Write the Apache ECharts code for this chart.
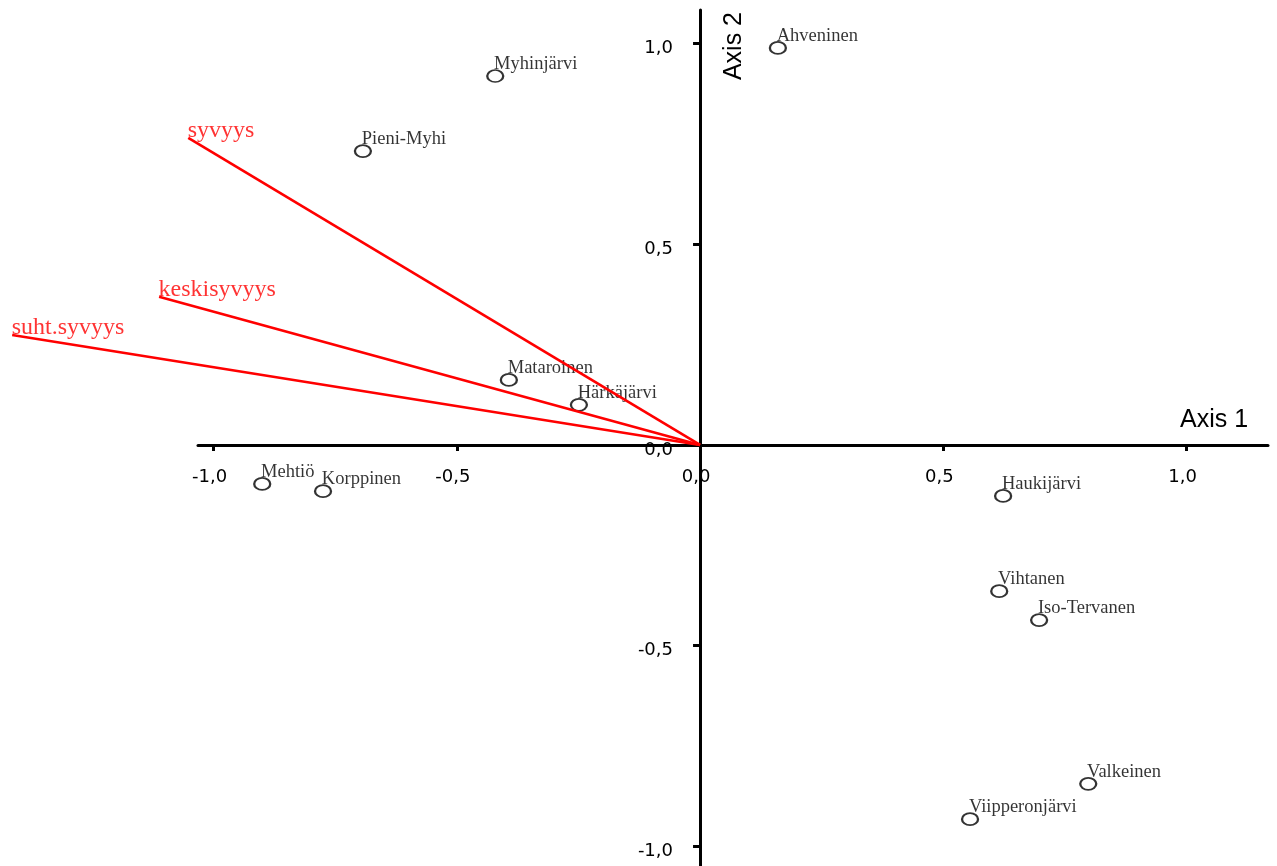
<!DOCTYPE html>
<html>
<head>
<meta charset="utf-8">
<title>Ordinaatio: järvet ja syvyysmuuttujat</title>
<script src="https://cdn.jsdelivr.net/npm/echarts@6/dist/echarts.min.js"></script>
<style>
  html, body { margin: 0; padding: 0; background: #fff; }
  #chart { width: 1277px; height: 866px; }
</style>
</head>
<body>
<div id="chart"></div>
<script>
// Lake scores on the two ordination axes
const siteNames = ['Ahveninen', 'Myhinjärvi', 'Pieni-Myhi', 'Mataroinen', 'Härkäjärvi', 'Mehtiö',
  'Korppinen', 'Haukijärvi', 'Vihtanen', 'Iso-Tervanen', 'Valkeinen', 'Viipperonjärvi'];
const siteAxis1 = [0.160, -0.421, -0.693, -0.393, -0.249, -0.900, -0.775, 0.623, 0.615, 0.697, 0.798, 0.555];
const siteAxis2 = [0.989, 0.919, 0.732, 0.162, 0.100, -0.097, -0.115, -0.127, -0.364, -0.436, -0.844, -0.932];

// Environmental variable vectors (tip coordinates, drawn from the origin)
const vectorNames = ['syvyys', 'keskisyvyys', 'suht.syvyys'];
const vectorAxis1 = [-1.052, -1.112, -1.414];
const vectorAxis2 = [0.765, 0.369, 0.274];

// Axis ranges and tick positions
const axis1Range = [-1.032, 1.1675];
const axis2Range = [-1.0486, 1.0834];
const tickValues = [-1, -0.5, 0, 0.5, 1];

const fmt = v => Number(v).toFixed(1).replace('.', ',');
const RED = '#ff0000';
const tickFont = { fontFamily: 'DejaVu Sans', fontSize: 18, color: '#000' };
const nameFont = { fontFamily: 'Liberation Sans', fontSize: 25, color: '#000' };

const siteData = siteNames.map((n, i) => ({ name: n, value: [siteAxis1[i], siteAxis2[i]] }));
const vectorData = vectorNames.map((n, i) => ({ name: n, value: [vectorAxis1[i], vectorAxis2[i]] }));

// Helper axes carry the tick labels next to the zero lines
const hiddenAxis = (gridIndex, range) => ({
  type: 'value', gridIndex, min: range[0], max: range[1], show: false,
  axisLine: { onZero: false }, splitLine: { show: false }
});

const option = {
  animation: false,
  backgroundColor: '#fff',
  grid: [
    { left: 198, right: 9, top: 10, bottom: 0, containLabel: false, outerBoundsMode: 'none' },
    { left: 198, right: 9, top: 10, bottom: 421, containLabel: false, outerBoundsMode: 'none' },
    // y tick labels sit a few pixels below their ticks
    { left: 700, right: 9, top: 15, bottom: -5, containLabel: false, outerBoundsMode: 'none' }
  ],
  xAxis: [
    {
      type: 'value',
      gridIndex: 0,
      min: axis1Range[0],
      max: axis1Range[1],
      name: 'Axis 1',
      nameLocation: 'end',
      nameGap: -88,
      nameTextStyle: Object.assign({
        align: 'left', verticalAlign: 'bottom', padding: [0, 0, 12, 0]
      }, nameFont),
      axisLine: { show: true, onZero: true, lineStyle: { color: '#000', width: 3 } },
      axisTick: { show: true, length: 6, customValues: tickValues, lineStyle: { color: '#000', width: 3 } },
      axisLabel: { show: false },
      splitLine: { show: false }
    },
    {
      type: 'value',
      gridIndex: 1,
      min: axis1Range[0],
      max: axis1Range[1],
      position: 'bottom',
      axisLine: { show: false, onZero: false },
      axisTick: { show: false },
      axisLabel: Object.assign({ customValues: tickValues, formatter: fmt, margin: 23, padding: [0, 8, 0, 0] }, tickFont),
      splitLine: { show: false }
    },
    hiddenAxis(2, axis1Range)
  ],
  yAxis: [
    {
      type: 'value',
      gridIndex: 0,
      min: axis2Range[0],
      max: axis2Range[1],
      name: 'Axis 2',
      nameLocation: 'end',
      nameRotate: 90,
      nameGap: -2,
      nameTextStyle: Object.assign({
        align: 'right', verticalAlign: 'top', padding: [22, 0, 0, 0]
      }, nameFont),
      axisLine: { show: true, onZero: true, lineStyle: { color: '#000', width: 3 } },
      axisTick: { show: true, length: 7, customValues: tickValues, lineStyle: { color: '#000', width: 3 } },
      axisLabel: { show: false },
      splitLine: { show: false }
    },
    hiddenAxis(1, axis2Range),
    {
      type: 'value',
      gridIndex: 2,
      min: axis2Range[0],
      max: axis2Range[1],
      position: 'left',
      axisLine: { show: false, onZero: false },
      axisTick: { show: false },
      axisLabel: Object.assign({ customValues: tickValues, formatter: fmt, margin: 27 }, tickFont),
      splitLine: { show: false }
    }
  ],
  series: [
    {
      type: 'scatter',
      name: 'järvet',
      xAxisIndex: 0,
      yAxisIndex: 0,
      data: siteData,
      symbol: 'circle',
      symbolSize: [16, 12],
      clip: false,
      z: 2,
      itemStyle: { color: '#fff', borderColor: '#000', borderWidth: 2 },
      label: {
        show: true,
        formatter: p => p.name,
        position: [8, -5],
        align: 'left',
        verticalAlign: 'middle',
        fontFamily: 'Liberation Serif',
        fontSize: 18.5,
        color: '#000'
      }
    },
    {
      // variable vectors from the origin
      type: 'custom',
      name: 'muuttujat',
      xAxisIndex: 0,
      yAxisIndex: 0,
      data: vectorData,
      clip: false,
      z: 4,
      silent: true,
      renderItem: (params, api) => {
        const o = api.coord([0, 0]);
        const p = api.coord([api.value(0), api.value(1)]);
        return {
          type: 'line',
          shape: { x1: o[0], y1: o[1], x2: p[0], y2: p[1] },
          style: { stroke: RED, lineWidth: 2.6, fill: null }
        };
      }
    },
    {
      // vector names at the tips
      type: 'scatter',
      name: 'muuttujanimet',
      xAxisIndex: 0,
      yAxisIndex: 0,
      data: vectorData,
      symbol: 'circle',
      symbolSize: 1,
      itemStyle: { color: 'rgba(0,0,0,0)' },
      clip: false,
      z: 4,
      silent: true,
      label: {
        show: true,
        formatter: p => p.name,
        position: [0, 5],
        align: 'left',
        verticalAlign: 'bottom',
        fontFamily: 'Liberation Serif',
        fontSize: 24,
        color: RED
      }
    }
  ]
};

const chart = echarts.init(document.getElementById('chart'), null, { renderer: 'canvas' });
chart.setOption(option);
</script>
</body>
</html>
